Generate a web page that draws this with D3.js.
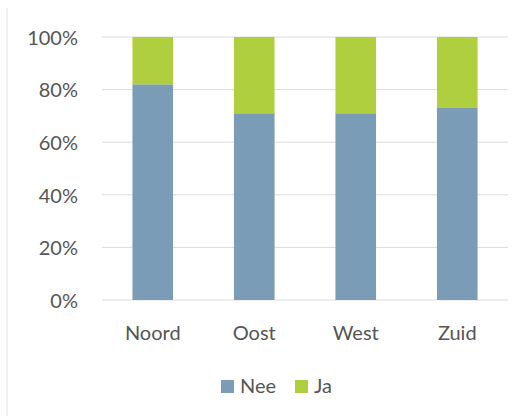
<!DOCTYPE html>
<html>
<head>
<meta charset="utf-8">
<script src="https://cdn.jsdelivr.net/npm/d3@7"></script>
<style>
  body { margin: 0; background: #fff; }
  text { font-family: Lato, "Open Sans", sans-serif; fill: #555; }
</style>
</head>
<body>
<script>
// data
var regions = ["Noord", "Oost", "West", "Zuid"];
var nee = [82, 71, 71, 73];
var ja = [18, 29, 29, 27];
var seriesNames = ["Nee", "Ja"];
var seriesColors = ["#7b9cb6", "#afcf3e"];
var yTicks = [0, 20, 40, 60, 80, 100];

var w = 532, h = 416;
var margin = {top: 37, left: 102, right: 24, bottom: 116};

var svg = d3.select("body").append("svg")
  .attr("width", w)
  .attr("height", h);

// faint frame edge on the left
svg.append("line")
  .attr("x1", 7).attr("x2", 7)
  .attr("y1", 8).attr("y2", h)
  .attr("stroke", "#e2e2e2");

var x = d3.scaleBand()
  .domain(regions)
  .range([margin.left, w - margin.right])
  .paddingInner(0.6)
  .paddingOuter(0.3);

var y = d3.scaleLinear()
  .domain([0, 100])
  .range([h - margin.bottom, margin.top]);

// gridlines
svg.append("g")
  .selectAll("line")
  .data(yTicks)
  .enter()
  .append("line")
  .attr("x1", margin.left)
  .attr("x2", w - margin.right)
  .attr("y1", function(d) { return y(d); })
  .attr("y2", function(d) { return y(d); })
  .attr("stroke", "#dcdcdc");

// y labels
var yAxis = svg.append("g")
  .attr("transform", "translate(" + (margin.left - 24) + ",0)")
  .call(d3.axisLeft(y).tickValues(yTicks).tickSize(0).tickFormat(function(d) { return d + "%"; }));
yAxis.select(".domain").remove();
yAxis.selectAll("text")
  .attr("font-size", "20px")
  .attr("x", 0)
  .attr("dy", "0.36em")
  .attr("fill", "#555");

// stacked bars
var rows = regions.map(function(r, i) { return {region: r, Nee: nee[i], Ja: ja[i]}; });
var stack = d3.stack().keys(seriesNames)(rows);

svg.append("g")
  .selectAll("g")
  .data(stack)
  .enter()
  .append("g")
  .attr("fill", function(d, i) { return seriesColors[i]; })
  .selectAll("rect")
  .data(function(d) { return d; })
  .enter()
  .append("rect")
  .attr("x", function(d) { return x(d.data.region); })
  .attr("width", x.bandwidth())
  .attr("y", function(d) { return y(d[1]); })
  .attr("height", function(d) { return y(d[0]) - y(d[1]); });

// x labels
var xAxis = svg.append("g")
  .attr("transform", "translate(0," + (h - margin.bottom) + ")")
  .call(d3.axisBottom(x).tickSize(0));
xAxis.select(".domain").remove();
xAxis.selectAll("text")
  .attr("font-size", "20px")
  .attr("dy", "0")
  .attr("y", 40)
  .attr("fill", "#555");

// legend
var legendX = [221, 295];
var legend = svg.append("g")
  .selectAll("g")
  .data(seriesNames)
  .enter()
  .append("g")
  .attr("transform", function(d, i) { return "translate(" + legendX[i] + ",380)"; });
legend.append("rect")
  .attr("width", 13)
  .attr("height", 13)
  .attr("fill", function(d, i) { return seriesColors[i]; });
legend.append("text")
  .attr("x", 19)
  .attr("y", 13)
  .attr("font-size", "20px")
  .attr("fill", "#555")
  .text(function(d) { return d; });
</script>
</body>
</html>
